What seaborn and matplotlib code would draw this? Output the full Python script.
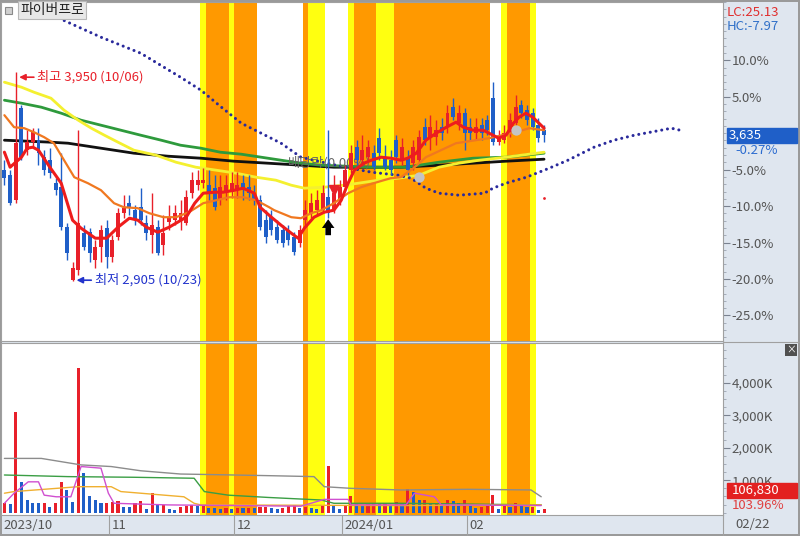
import numpy as np
import matplotlib
matplotlib.use("Agg")
import matplotlib.pyplot as plt
import matplotlib.transforms as mtransforms
from matplotlib.lines import Line2D
from matplotlib.patches import Rectangle
import seaborn as sns

# ---- values ----
stock_name = "파이버프로"
base_price = 3645          # 0% of the right-hand percent scale
hi_date, lo_date = "10/06", "10/23"
last_date = "02/22"
vol_ratio_text = "103.96%"
exdiv_label = "배당락(0.00%)"

month_labels = ["2023/10", "11", "12", "2024/01", "02"]
month_start = [0, 19, 41, 60, 82]

opens = [3460, 3435, 3310, 3770, 3560, 3600, 3610, 3525, 3510, 3395,
         3375, 3175, 2910, 2960, 3145, 3150, 3010, 3075, 3170, 3025,
         3125, 3245, 3295, 3260, 3275, 3195, 3135, 3175, 3085, 3200,
         3210, 3210, 3195, 3345, 3385, 3395, 3385, 3370, 3310, 3345,
         3350, 3360, 3395, 3375, 3345, 3310, 3210, 3225, 3175, 3160,
         3160, 3125, 3095, 3210, 3245, 3260, 3260, 3325, 3260, 3310,
         3375, 3460, 3575, 3510, 3525, 3545, 3620, 3525, 3510, 3610,
         3510, 3525, 3495, 3510, 3675, 3625, 3625, 3675, 3675, 3775,
         3695, 3745, 3675, 3645, 3685, 3710, 3820, 3600, 3610, 3645,
         3695, 3785, 3760, 3745, 3685, 3660]
highs = [3510, 3460, 3950, 3785, 3660, 3670, 3670, 3560, 3570, 3420,
         3545, 3195, 3000, 3660, 3185, 3170, 3110, 3185, 3210, 3135,
         3270, 3335, 3335, 3285, 3370, 3235, 3345, 3210, 3235, 3285,
         3285, 3310, 3360, 3450, 3460, 3470, 3460, 3435, 3435, 3435,
         3450, 3450, 3435, 3435, 3385, 3335, 3260, 3260, 3210, 3185,
         3185, 3150, 3185, 3310, 3345, 3360, 3385, 3660, 3435, 3410,
         3485, 3585, 3610, 3635, 3610, 3585, 3670, 3585, 3560, 3635,
         3620, 3560, 3610, 3660, 3720, 3735, 3710, 3720, 3785, 3820,
         3785, 3770, 3720, 3720, 3720, 3735, 3900, 3660, 3685, 3745,
         3835, 3810, 3785, 3770, 3720, 3685]
lows = [3385, 3285, 3295, 3510, 3535, 3570, 3485, 3435, 3420, 3335,
        3160, 3010, 2905, 2935, 3060, 3000, 2970, 3000, 2970, 3000,
        3110, 3220, 3235, 3185, 3185, 3110, 3045, 3035, 3035, 3160,
        3185, 3160, 3185, 3320, 3360, 3370, 3310, 3260, 3285, 3310,
        3320, 3320, 3310, 3310, 3285, 3160, 3095, 3135, 3095, 3075,
        3085, 3035, 3075, 3175, 3220, 3235, 3245, 3220, 3245, 3285,
        3360, 3445, 3485, 3485, 3510, 3460, 3510, 3460, 3435, 3495,
        3485, 3435, 3460, 3495, 3585, 3560, 3585, 3610, 3645, 3710,
        3660, 3560, 3610, 3610, 3610, 3635, 3585, 3585, 3595, 3625,
        3685, 3720, 3685, 3660, 3600, 3600]
closes = [3420, 3295, 3595, 3525, 3600, 3650, 3545, 3460, 3445, 3360,
          3175, 3045, 2970, 3195, 3075, 3045, 3075, 3160, 3025, 3110,
          3245, 3270, 3270, 3210, 3210, 3145, 3185, 3045, 3145, 3225,
          3245, 3245, 3325, 3410, 3410, 3410, 3350, 3275, 3375, 3385,
          3395, 3385, 3360, 3345, 3310, 3175, 3125, 3160, 3110, 3095,
          3110, 3050, 3160, 3260, 3295, 3310, 3345, 3245, 3345, 3375,
          3460, 3545, 3510, 3560, 3575, 3475, 3545, 3475, 3460, 3525,
          3575, 3460, 3575, 3625, 3610, 3675, 3660, 3645, 3745, 3725,
          3745, 3645, 3645, 3675, 3645, 3660, 3600, 3625, 3645, 3710,
          3775, 3745, 3710, 3675, 3620, 3635]
volume_k = [310, 280, 3100, 950, 390, 310, 300, 310, 180, 300,
            950, 700, 340, 4450, 1220, 500, 390, 300, 310, 340,
            350, 180, 170, 300, 370, 100, 600, 230, 240, 100,
            80, 170, 200, 230, 200, 210, 150, 140, 120, 140,
            100, 150, 140, 150, 130, 170, 180, 140, 100, 140,
            200, 240, 130, 180, 140, 120, 200, 1440, 250, 120,
            250, 500, 280, 250, 270, 300, 270, 300, 250, 320,
            280, 720, 650, 390, 400, 300, 300, 200, 400, 360,
            300, 400, 220, 160, 170, 250, 550, 120, 200, 170,
            300, 250, 170, 180, 95, 106.83]

# signal shading per candle: Y = yellow, O = orange, . = none
signal = ("..................."
          "................YOOOOY"
          "OOOO........OYYY..."
          ".YOOOOYYYOOOOOOOOOOOOO"
          "OOOO..YOOOOY..")

# price moving averages (candle index, price)
ma5_x = [0, 1, 3, 4, 5, 6, 8, 10, 12, 13.5, 16, 18, 20, 22, 23.5, 25, 27, 29, 30.5, 32,
         33.5, 35, 37, 38.5, 40.5, 42, 44, 45, 47, 48.7, 50.5, 51.7, 52.8, 54.5, 56.3, 58,
         59.3, 60.5, 61.6, 63.3, 64.6, 66.3, 68, 69.8, 71, 72.5, 74.2, 76, 77.8, 79.5,
         80.8, 82.5, 84.3, 86, 87, 88.3, 89.6, 90.6, 91.8, 93, 94.1, 95]
ma5_y = [3550, 3475, 3525, 3570, 3575, 3560, 3475, 3395, 3210, 3170, 3120, 3120, 3175, 3220,
         3210, 3175, 3150, 3175, 3200, 3225, 3295, 3345, 3350, 3350, 3360, 3370, 3345, 3275,
         3225, 3185, 3145, 3120, 3170, 3225, 3250, 3260, 3310, 3395, 3460, 3495, 3510, 3525,
         3520, 3510, 3520, 3545, 3610, 3645, 3675, 3700, 3675, 3660, 3660, 3635, 3620, 3635,
         3695, 3725, 3745, 3725, 3695, 3670]
ma20_x = [0, 1.7, 3.5, 5.2, 7, 8.7, 10.5, 12.3, 14.7, 17, 19.3, 21, 23.5, 25.5, 28, 30.2,
          32.5, 35, 37.3, 39.6, 42, 44.3, 46.6, 47.5, 50.5, 52.2, 54, 55.8, 58, 60.5, 62.8,
          65, 68, 69.8, 72, 74.2, 79.5, 85.3, 90, 92.4, 95]
ma20_y = [3735, 3675, 3670, 3650, 3625, 3595, 3510, 3425, 3395, 3360, 3295, 3275, 3270, 3245,
          3225, 3225, 3250, 3295, 3310, 3325, 3325, 3310, 3275, 3260, 3225, 3220, 3245, 3260,
          3295, 3345, 3375, 3395, 3420, 3425, 3470, 3525, 3595, 3620, 3650, 3670, 3660]
ma60_x = [0, 3, 5.2, 8.2, 10.5, 13, 15.3, 17.6, 20, 22.8, 26.7, 30.2, 33.7, 37.3, 40.8, 44.3,
          47.8, 50.5, 52.8, 56.3, 59.8, 62.3, 65.8, 69.3, 73, 76.5, 80, 83.6, 88.3, 95]
ma60_y = [3900, 3875, 3850, 3820, 3760, 3710, 3670, 3635, 3600, 3560, 3535, 3500, 3475, 3460,
          3445, 3425, 3410, 3385, 3370, 3375, 3385, 3395, 3410, 3420, 3435, 3475, 3495, 3510,
          3525, 3550]
ma120_x = [0, 3, 6.5, 10, 13.5, 17, 20.5, 24, 27.6, 31, 34.6, 38, 41.7, 45.2, 48.7, 52.2,
           55.8, 64.6, 70.7, 76.5, 82.5, 88.3, 95]
ma120_y = [3810, 3795, 3775, 3745, 3710, 3685, 3660, 3635, 3610, 3585, 3570, 3550, 3540, 3525,
           3510, 3495, 3485, 3475, 3475, 3500, 3520, 3525, 3545]
ma240_x = [0, 8.2, 11.2, 17, 22.8, 28.8, 34.6, 40.4, 46.4, 52.2, 58, 69.8, 76.5, 82.5, 88.3, 95]
ma240_y = [3610, 3600, 3595, 3570, 3545, 3530, 3520, 3505, 3495, 3485, 3475, 3475, 3485, 3495,
           3505, 3515]
# forward-shifted line (dotted)
lead_x = [9.6, 17, 24, 31, 34.6, 38.2, 41.7, 45.2, 48.7, 52.2, 57.5, 64.6, 69.3, 71.6, 74.2,
          76.5, 80, 84.5, 86, 88.3, 91.9, 95.9, 99.2, 103.8, 107.3, 110.9, 115.6, 117.4, 119.7]
lead_y = [4220, 4125, 4045, 3925, 3860, 3775, 3695, 3645, 3595, 3525, 3490, 3450, 3435, 3420,
          3370, 3345, 3335, 3345, 3370, 3395, 3425, 3470, 3510, 3575, 3610, 3635, 3660, 3670,
          3655]

# volume moving averages (candle index, thousand shares)
vma_gray_x = [0, 6.5, 13.5, 18.8, 24, 31, 40.4, 46.4, 54.5, 56.3, 61, 69.8, 81.6, 92.7, 94.5]
vma_gray_y = [1670, 1670, 1470, 1420, 1290, 1190, 1160, 1140, 1110, 800, 750, 700, 720, 700, 490]
vma_green_x = [0, 11.2, 22.8, 33.4, 35.2, 39.4, 46.4, 55.8, 58, 69.8, 94.5]
vma_green_y = [1160, 1110, 1090, 1060, 650, 540, 470, 390, 290, 290, 240]
vma_orange_x = [0, 1.7, 13, 18.8, 20.5, 31.6, 33.4, 34.6, 69.8, 94.5]
vma_orange_y = [600, 650, 800, 800, 650, 490, 290, 240, 220, 240]
vma_mag_x = [0, 1.7, 4.2, 6, 7, 9.1, 11.7, 13.5, 17, 18.3, 19.3, 28.8, 52.2, 56.3, 60.5, 61,
             70.7, 72.2, 75.7, 76.9, 94.5]
vma_mag_y = [290, 600, 950, 950, 540, 490, 490, 1420, 1370, 600, 290, 240, 200, 410, 410, 240,
             240, 600, 490, 240, 220]

# event marks
exdiv_idx = 58
buy_idx = 57
gray_dot_idx = [73, 90]
gray_dot_val = [3425, 3660]
red_dot_idx, red_dot_val = 95, 3320

# ---- styling ----
sns.set_theme(style="white")
plt.rcParams["font.family"] = ["Noto Sans CJK KR", "DejaVu Sans"]

RED = "#e8202a"
BLUE = "#1f5fc8"
STRIP = "#dfe6ef"
BAND = {"Y": "#ffff10", "O": "#ff9900"}

idx = np.arange(len(closes))
o = np.array(opens, float)
h = np.array(highs, float)
l = np.array(lows, float)
c = np.array(closes, float)
v = np.array(volume_k, float)
up = c >= o
candle_col = np.where(up, RED, BLUE)
vol_col = np.where(np.r_[True, v[1:] >= v[:-1]], RED, BLUE)

fig = plt.figure(figsize=(8, 5.36), dpi=100, facecolor=STRIP)
ax = fig.add_axes([0.00125, 0.3638, 0.9025, 0.6325])
axv = fig.add_axes([0.00125, 0.0392, 0.9025, 0.3209], sharex=ax)

for a in (ax, axv):
    a.set_facecolor("white")
    for s in a.spines.values():
        s.set_color("#a0a0a0")
        s.set_linewidth(0.8)
    # signal shading, merged into runs
    i = 0
    while i < len(signal):
        if signal[i] in BAND:
            j = i
            while j + 1 < len(signal) and signal[j + 1] == signal[i]:
                j += 1
            a.axvspan(i - 0.5, j + 0.5, color=BAND[signal[i]], lw=0, zorder=0)
            i = j + 1
        else:
            i += 1

ax.set_xlim(-0.6, 126.5)
ax.set_ylim(2606, 4299)
axv.set_ylim(-70, 5220)

# moving averages under the candles
for xs, ys, col, lw in [(ma240_x, ma240_y, "#111111", 2.0),
                        (ma120_x, ma120_y, "#2e9a3c", 2.0),
                        (ma60_x, ma60_y, "#f4f030", 2.0)]:
    sns.lineplot(x=xs, y=ys, ax=ax, color=col, linewidth=lw, sort=False,
                 estimator=None, zorder=2)

ax.plot(lead_x, lead_y, color="#2a2a9c", lw=2.2, linestyle=(0, (0.01, 1.9)),
        dash_capstyle="round", zorder=2)

ax.text(exdiv_idx - 0.7, 3495, exdiv_label, color="#666666", fontsize=9.5,
        ha="center", va="center", zorder=2.2)

# candles
ax.vlines(idx, l, h, colors=candle_col, lw=1.0, zorder=3)
body = np.maximum(np.abs(c - o), 6)
ax.bar(idx, body, bottom=np.minimum(o, c), width=0.7, color=candle_col,
       linewidth=0, zorder=3.1)

for xs, ys, col, lw in [(ma20_x, ma20_y, "#f07820", 1.6),
                        (ma5_x, ma5_y, "#ee1c1c", 2.2)]:
    sns.lineplot(x=xs, y=ys, ax=ax, color=col, linewidth=lw, sort=False,
                 estimator=None, zorder=4)

# event markers
ax.plot(exdiv_idx, 3360, marker="v", color=RED, markersize=7, zorder=5)
ax.annotate("", xy=(buy_idx, 3215), xytext=(buy_idx, 3135),
            arrowprops=dict(arrowstyle="simple,head_width=1.0,head_length=0.7,tail_width=0.45",
                            color="black", lw=0, mutation_scale=9,
                            shrinkA=0, shrinkB=0), zorder=5)
ax.scatter(gray_dot_idx, gray_dot_val, s=55, color="#c4c4c4", zorder=5, linewidths=0)
ax.scatter([red_dot_idx], [red_dot_val], s=4, color=RED, zorder=5, linewidths=0)

hi_i = int(np.argmax(h))
lo_i = int(np.argmin(l))
ax.annotate(f"최고 {int(h[hi_i]):,} ({hi_date})", xy=(hi_i + 0.6, h[hi_i] - 25),
            xytext=(18, 0), textcoords="offset pixels", color=RED, fontsize=9.5,
            ha="left", va="center",
            arrowprops=dict(arrowstyle="-|>", color=RED, lw=1.2, shrinkA=0, shrinkB=0,
                            mutation_scale=9), zorder=6)
ax.annotate(f"최저 {int(l[lo_i]):,} ({lo_date})", xy=(lo_i + 0.7, l[lo_i] + 5),
            xytext=(18, 0), textcoords="offset pixels", color="#2233cc", fontsize=9.5,
            ha="left", va="center",
            arrowprops=dict(arrowstyle="-|>", color="#2233cc", lw=1.2, shrinkA=0, shrinkB=0,
                            mutation_scale=9), zorder=6)

# right percent scale
pct_ticks = [10, 5, -5, -10, -15, -20, -25]
ax.yaxis.tick_right()
ax.set_yticks([base_price * (1 + p / 100) for p in pct_ticks])
ax.set_yticklabels([f"{p:.1f}%" for p in pct_ticks])
ax.set_yticks([base_price * (1 + p / 100) for p in range(-28, 19)], minor=True)
ax.tick_params(axis="y", which="major", direction="out", length=5, width=0.8,
               color="#7a8290", labelsize=9.5, labelcolor="#555555", pad=1)
ax.tick_params(axis="y", which="minor", direction="out", length=2, width=0.6,
               color="#9aa2b0")
ax.tick_params(axis="x", bottom=False, labelbottom=False)

# volume panel
axv.bar(idx, v, width=0.55, color=vol_col, linewidth=0, zorder=3)
for xs, ys, col in [(vma_gray_x, vma_gray_y, "#8c8c8c"),
                    (vma_green_x, vma_green_y, "#3a9e44"),
                    (vma_orange_x, vma_orange_y, "#f0b030"),
                    (vma_mag_x, vma_mag_y, "#d050d0")]:
    sns.lineplot(x=xs, y=ys, ax=axv, color=col, linewidth=1.0, sort=False,
                 estimator=None, zorder=4)
vol_ticks = [1000, 2000, 3000, 4000]
axv.yaxis.tick_right()
axv.set_yticks(vol_ticks)
axv.set_yticklabels([f"{t:,}K" for t in vol_ticks])
axv.set_yticks(np.arange(0, 5200, 250), minor=True)
axv.tick_params(axis="y", which="major", direction="out", length=5, width=0.8,
                color="#7a8290", labelsize=9.5, labelcolor="#555555", pad=1)
axv.tick_params(axis="y", which="minor", direction="out", length=2, width=0.6,
                color="#9aa2b0")
axv.tick_params(axis="x", bottom=False, labelbottom=False)
axv.set_xlabel("")
axv.set_ylabel("")
ax.set_xlabel("")
ax.set_ylabel("")

# date strip
bt = mtransforms.blended_transform_factory(axv.transData, axv.transAxes)
for k, (lab, s) in enumerate(zip(month_labels, month_start)):
    if k > 0:
        axv.add_line(Line2D([s - 0.5, s - 0.5], [-0.122, 0], transform=bt,
                            color="#a0a0a0", lw=0.8, clip_on=False))
    axv.text(s - 0.5 + 0.35, -0.062, lab, transform=bt, ha="left", va="center",
             fontsize=9.5, color="#555555")
fig.add_artist(Line2D([723 / 800, 723 / 800], [0, 21 / 536], color="#a0a0a0", lw=0.8))
fig.text(735 / 800, 1 - 524 / 536, last_date, fontsize=9.5, color="#555555",
         ha="left", va="center")
fig.add_artist(Line2D([723 / 800, 1], [1 - 342 / 536] * 2, color="#a0a0a0", lw=0.8))

# right-side value boxes
pt = mtransforms.blended_transform_factory(ax.transAxes, ax.transData)
last = c[-1]
box_h = 15 / 339 * (4299 - 2606)
ax.add_patch(Rectangle((1.005, last - box_h / 2), 0.098, box_h, transform=pt,
                       color=BLUE, clip_on=False, zorder=6))
ax.text(1.008, last, f"{int(last):,}", transform=pt, color="white", fontsize=9.5,
        ha="left", va="center", zorder=7)
ax.annotate(f"{(last / base_price - 1) * 100:.2f}%", xy=(1.0, last), xycoords=pt,
            xytext=(12, -15), textcoords="offset pixels", color="#2c6cd0",
            fontsize=9.5, ha="left", va="center", annotation_clip=False)

vt = axv.transAxes
axv.add_patch(Rectangle((1.005, 0.1), 0.098, 0.088, transform=vt, color="#e32020",
                        clip_on=False, zorder=6))
axv.text(1.012, 0.144, f"{v[-1] * 1000:,.0f}", transform=vt, color="white",
         fontsize=9.5, ha="left", va="center", zorder=7)
axv.text(1.012, 0.056, vol_ratio_text, transform=vt, color="#e04040", fontsize=9.5,
         ha="left", va="center")

# header texts
lc = (last / l.min() - 1) * 100
hc = (last / h.max() - 1) * 100
fig.text(727 / 800, 1 - 12 / 536, f"LC:{lc:.2f}", color="#e03030", fontsize=9.5,
         ha="left", va="center")
fig.text(727 / 800, 1 - 26 / 536, f"HC:{hc:.2f}", color="#3070c8", fontsize=9.5,
         ha="left", va="center")
fig.text(20 / 800, 1 - 10 / 536, stock_name, fontsize=10, color="#222222",
         ha="left", va="center",
         bbox=dict(boxstyle="square,pad=0.15", fc="#e8e8e8", ec="#b8b8b8", lw=0.8))
fig.add_artist(Rectangle((5 / 800, 1 - 14 / 536), 7 / 800, 7 / 536, fc="#d0d0d0",
                         ec="#8a8a8a", lw=0.8))
fig.text(791 / 800, 1 - 350 / 536, "×", color="white", fontsize=7, ha="center",
         va="center", bbox=dict(boxstyle="square,pad=0.12", fc="#505050", ec="none"))

fig.patch.set_edgecolor("#9a9a9a")
fig.patch.set_linewidth(1.5)
fig.savefig("out.png", dpi=100, facecolor=fig.get_facecolor(),
            edgecolor=fig.patch.get_edgecolor())
